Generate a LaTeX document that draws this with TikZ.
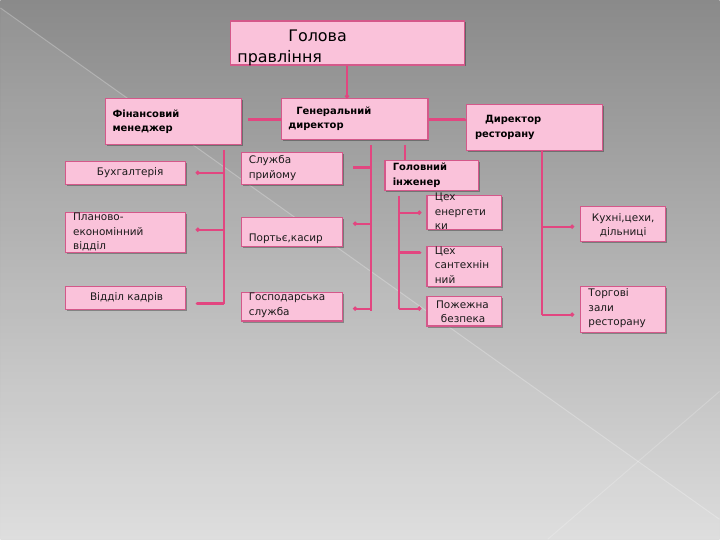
\documentclass[tikz,border=0pt]{standalone}
\usepackage{fontspec}
\setmainfont{DejaVu Sans}
\usetikzlibrary{arrows.meta,shadows}
\definecolor{boxfill}{RGB}{250,194,218}
\definecolor{boxline}{RGB}{212,88,138}
\definecolor{connc}{RGB}{226,70,128}
\definecolor{bgtop}{RGB}{138,138,138}
\definecolor{bgbot}{RGB}{220,220,220}
\begin{document}
\begin{tikzpicture}[x=1bp,y=-1bp,
  box/.style={draw=boxline,fill=boxfill,line width=1.2bp,inner sep=0pt,
    drop shadow={shadow xshift=1.5bp,shadow yshift=-1.5bp,opacity=0.3,fill=black}},
  txt/.style={anchor=base west,inner sep=0pt,text=black!90,font=\fontsize{10.5}{12}\selectfont},
  btxt/.style={anchor=base west,inner sep=0pt,text=black,font=\fontsize{10}{12}\selectfont\bfseries},
  htxt/.style={anchor=base west,inner sep=0pt,text=black,font=\fontsize{16}{18}\selectfont},
  conn/.style={draw=connc,line width=2bp},
  thickconn/.style={draw=connc,line width=3bp},
  tip/.style={-{Circle[length=4bp]}}
]
% background
\shade[top color=bgtop,bottom color=bgbot] (0,0) rectangle (720,540);
\fill[white,opacity=0.07] (0,8) -- (720,520) -- (720,540) -- (0,540) -- cycle;
\draw[white,opacity=0.25,line width=1bp] (0,8) -- (720,520);
\draw[white,opacity=0.2,line width=1bp] (720,392) -- (548,540);
\useasboundingbox (0,0) rectangle (720,540);

% boxes
\node[box,minimum width=235bp,minimum height=44bp] (head) at (347.5,43) {};
\node[box,minimum width=136bp,minimum height=46bp] (fin) at (173,122) {};
\node[box,minimum width=147bp,minimum height=40.5bp] (gen) at (354.5,119.25) {};
\node[box,minimum width=136bp,minimum height=45.5bp] (dir) at (535,127.75) {};
\node[box,minimum width=120bp,minimum height=23bp] (buh) at (125,173.5) {};
\node[box,minimum width=120bp,minimum height=40bp] (plan) at (125,233) {};
\node[box,minimum width=120bp,minimum height=23bp] (kadr) at (125,298.5) {};
\node[box,minimum width=101.5bp,minimum height=32bp] (sluzh) at (291.75,169) {};
\node[box,minimum width=101.5bp,minimum height=29bp] (port) at (291.75,232.5) {};
\node[box,minimum width=101.5bp,minimum height=28.5bp] (gosp) at (291.75,307.25) {};
\node[box,minimum width=94bp,minimum height=30bp] (golinzh) at (432,176) {};
\node[box,minimum width=75bp,minimum height=34bp] (en) at (464.5,213) {};
\node[box,minimum width=75bp,minimum height=40bp] (san) at (464.5,267) {};
\node[box,minimum width=75bp,minimum height=29.5bp] (pozh) at (464.5,311.75) {};
\node[box,minimum width=85bp,minimum height=35bp] (kuh) at (623.5,224.5) {};
\node[box,minimum width=85bp,minimum height=46bp] (torg) at (623.5,310) {};

% texts
\node[htxt] (t-head1) at (288,41.7) {Голова};
\node[htxt] (t-head2) at (237,62.5) {правління};
\node[btxt] (t-fin1) at (112,117.5) {Фінансовий};
\node[btxt] (t-fin2) at (112,131.5) {менеджер};
\node[btxt] (t-gen1) at (296,114.5) {Генеральний};
\node[btxt] (t-gen2) at (288,128.5) {директор};
\node[btxt] (t-dir1) at (485,123) {Директор};
\node[btxt] (t-dir2) at (475,137.5) {ресторану};
\node[txt] (t-buh) at (96.4,175.5) {Бухгалтерія};
\node[txt] (t-plan1) at (72.5,220.5) {Планово-};
\node[txt] (t-plan2) at (72.5,235.5) {економінний};
\node[txt] (t-plan3) at (72.5,250) {відділ};
\node[txt] (t-kadr) at (89.5,300.5) {Відділ кадрів};
\node[txt] (t-sl1) at (248.4,164) {Служба};
\node[txt] (t-sl2) at (248.4,179) {прийому};
\node[txt] (t-port) at (248.4,242) {Портьє,касир};
\node[txt] (t-gosp1) at (248.4,301) {Господарська};
\node[txt] (t-gosp2) at (248.4,315.5) {служба};
\node[btxt] (t-gi1) at (392.6,171) {Головний};
\node[btxt] (t-gi2) at (392.6,185.3) {інженер};
\node[txt] (t-en1) at (434.8,200.8) {Цех};
\node[txt] (t-en2) at (434.8,216) {енергети};
\node[txt] (t-en3) at (434.8,229.7) {ки};
\node[txt] (t-san1) at (434.8,255) {Цех};
\node[txt] (t-san2) at (434.8,269.3) {сантехнін};
\node[txt] (t-san3) at (434.8,283.8) {ний};
\node[txt] (t-poz1) at (436,309.3) {Пожежна};
\node[txt] (t-poz2) at (440.8,323) {безпека};
\node[txt] (t-kuh1) at (592,222.2) {Кухні,цехи,};
\node[txt] (t-kuh2) at (600,236.3) {дільниці};
\node[txt] (t-tor1) at (588.6,297.2) {Торгові};
\node[txt] (t-tor2) at (588.6,312) {зали};
\node[txt] (t-tor3) at (588.6,325.8) {ресторану};

% connectors
\draw[conn,tip] (head.south -| 347,0) -- (347,0 |- gen.north);
\draw[thickconn] (gen.west |- 0,120) -- ([xshift=6bp]fin.east |- 0,120);
\draw[thickconn,-{Circle[length=2bp]}] (gen.east |- 0,120) -- (dir.west |- 0,120);

\coordinate (fv1) at (224,150);
\coordinate (fv2) at (224,304);
\draw[conn] (fv1) -- (fv2);
\draw[conn,tip] (fv1 |- 0,173) -- ([xshift=10bp]buh.east |- 0,173);
\draw[conn,tip] (fv1 |- 0,230) -- ([xshift=10bp]plan.east |- 0,230);
\draw[thickconn,-{Circle[length=2bp]}] (fv2) -- ([xshift=10bp]kadr.east |- fv2);

\coordinate (gv1) at (371,145);
\coordinate (gv2) at (371,311);
\draw[conn] (gv1) -- (gv2);
\draw[thickconn] (gv1 |- 0,168) -- ([xshift=10bp]sluzh.east |- 0,168);
\draw[conn,tip] (gv1 |- 0,224) -- ([xshift=10bp]port.east |- 0,224);
\draw[conn,tip] (gv1 |- 0,309) -- ([xshift=10bp]gosp.east |- 0,309);

\coordinate (gi) at (405,145);
\draw[conn] (gi) -- (gi |- golinzh.north);

\coordinate (iv1) at (399,196);
\coordinate (iv2) at (399,309);
\draw[conn] (iv1) -- (iv2);
\draw[conn,tip] (iv1 |- 0,213) -- ([xshift=-5bp]en.west |- 0,213);
\draw[thickconn,-{Circle[length=2bp]}] (iv1 |- 0,253) -- ([xshift=-5bp]san.west |- 0,253);
\draw[conn,tip] (iv2) -- ([xshift=-5bp]pozh.west |- iv2);

\coordinate (dv1) at (542,151);
\coordinate (dv2) at (542,315);
\draw[conn] (dv1) -- (dv2);
\draw[conn,tip] (dv1 |- 0,227) -- ([xshift=-6bp]kuh.west |- 0,227);
\draw[conn,tip] (dv2) -- ([xshift=-6bp]torg.west |- dv2);
\end{tikzpicture}
\end{document}
